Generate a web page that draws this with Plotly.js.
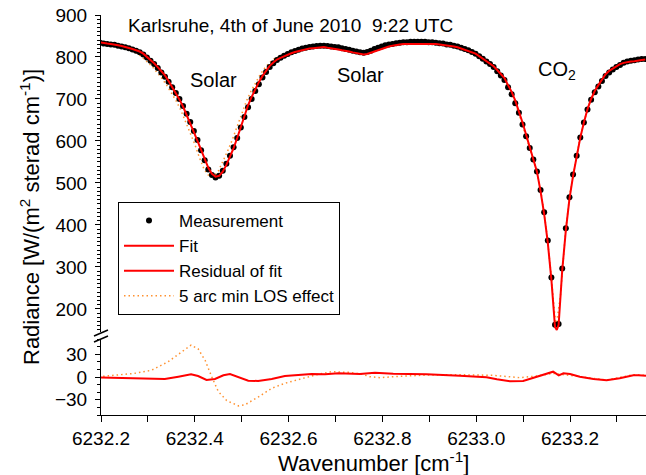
<!DOCTYPE html>
<html><head><meta charset="utf-8">
<script src="https://cdn.plot.ly/plotly-3.0.1.min.js"></script>
<style>html,body{margin:0;padding:0;background:#fff}#chart{width:646px;height:475px}</style>
</head><body><div id="chart"></div>
<script>
// Measurement (black dots)
const wnMeas = [
6232.1978,6232.2055,6232.2132,6232.2209,6232.2286,6232.2363,6232.2440,6232.2517,6232.2594,6232.2671,
6232.2748,6232.2825,6232.2902,6232.2979,6232.3056,6232.3133,6232.3210,6232.3287,6232.3364,6232.3441,
6232.3518,6232.3595,6232.3672,6232.3749,6232.3826,6232.3903,6232.3980,6232.4057,6232.4134,6232.4211,
6232.4288,6232.4365,6232.4442,6232.4519,6232.4596,6232.4673,6232.4750,6232.4827,6232.4904,6232.4981,
6232.5058,6232.5135,6232.5212,6232.5289,6232.5366,6232.5443,6232.5520,6232.5597,6232.5674,6232.5751,
6232.5828,6232.5905,6232.5982,6232.6059,6232.6136,6232.6213,6232.6290,6232.6367,6232.6444,6232.6521,
6232.6598,6232.6675,6232.6752,6232.6829,6232.6906,6232.6983,6232.7060,6232.7137,6232.7214,6232.7291,
6232.7368,6232.7445,6232.7522,6232.7599,6232.7676,6232.7753,6232.7830,6232.7907,6232.7984,6232.8061,
6232.8138,6232.8215,6232.8292,6232.8369,6232.8446,6232.8523,6232.8600,6232.8677,6232.8754,6232.8831,
6232.8908,6232.8985,6232.9062,6232.9139,6232.9216,6232.9293,6232.9370,6232.9447,6232.9524,6232.9601,
6232.9678,6232.9755,6232.9832,6232.9909,6232.9986,6233.0063,6233.0140,6233.0217,6233.0294,6233.0371,
6233.0448,6233.0525,6233.0602,6233.0679,6233.0756,6233.0833,6233.0910,6233.0987,6233.1064,6233.1141,
6233.1218,6233.1295,6233.1372,6233.1449,6233.1526,6233.1603,6233.1680,6233.1757,6233.1834,6233.1911,
6233.1988,6233.2065,6233.2142,6233.2219,6233.2296,6233.2373,6233.2450,6233.2527,6233.2604,6233.2681,
6233.2758,6233.2835,6233.2912,6233.2989,6233.3066,6233.3143,6233.3220,6233.3297,6233.3374,6233.3451,
6233.3528,6233.3605];
const measurement = [
834,832,831,830,829,827,825,823,821,818,
815,811,806,799,791,783,774,763,753,741,
728,714,700,683,665,645,624,602,578,554,
532,519,513,517,529,546,565,585,607,632,
657,680,700,719,735,751,764,776,785,793,
798,803,807,811,814,817,820,822,824,825,
826,827,827,826,825,824,823,821,819,817,
815,813,811,810,812,815,819,822,825,828,
830,831,833,834,835,835,836,836,836,836,
836,835,835,834,833,832,830,829,827,825,
822,819,816,812,808,802,796,789,783,776,
766,756,745,728,711,690,667,639,611,583,
556,527,483,430,363,275,162,164,296,392,
466,520,565,608,644,675,698,716,730,743,
755,763,770,776,781,786,789,791,792,794,
795,795];

// Fit (red line)
const wnFit = [
6232.1978,6232.2055,6232.2132,6232.2209,6232.2286,6232.2363,6232.2440,6232.2517,6232.2594,6232.2671,
6232.2748,6232.2825,6232.2902,6232.2979,6232.3056,6232.3133,6232.3210,6232.3287,6232.3364,6232.3441,
6232.3518,6232.3595,6232.3672,6232.3749,6232.3826,6232.3903,6232.3980,6232.4057,6232.4134,6232.4211,
6232.4288,6232.4365,6232.4442,6232.4519,6232.4596,6232.4673,6232.4750,6232.4827,6232.4904,6232.4981,
6232.5058,6232.5135,6232.5212,6232.5289,6232.5366,6232.5443,6232.5520,6232.5597,6232.5674,6232.5751,
6232.5828,6232.5905,6232.5982,6232.6059,6232.6136,6232.6213,6232.6290,6232.6367,6232.6444,6232.6521,
6232.6598,6232.6675,6232.6752,6232.6829,6232.6906,6232.6983,6232.7060,6232.7137,6232.7214,6232.7291,
6232.7368,6232.7445,6232.7522,6232.7599,6232.7676,6232.7753,6232.7830,6232.7907,6232.7984,6232.8061,
6232.8138,6232.8215,6232.8292,6232.8369,6232.8446,6232.8523,6232.8600,6232.8677,6232.8754,6232.8831,
6232.8908,6232.8985,6232.9062,6232.9139,6232.9216,6232.9293,6232.9370,6232.9447,6232.9524,6232.9601,
6232.9678,6232.9755,6232.9832,6232.9909,6232.9986,6233.0063,6233.0140,6233.0217,6233.0294,6233.0371,
6233.0448,6233.0525,6233.0602,6233.0679,6233.0756,6233.0833,6233.0910,6233.0987,6233.1064,6233.1141,
6233.1218,6233.1295,6233.1372,6233.1449,6233.1526,6233.1603,6233.1680,6233.1718,6233.1757,6233.1834,6233.1911,
6233.1988,6233.2065,6233.2142,6233.2219,6233.2296,6233.2373,6233.2450,6233.2527,6233.2604,6233.2681,
6233.2758,6233.2835,6233.2912,6233.2989,6233.3066,6233.3143,6233.3220,6233.3297,6233.3374,6233.3451,
6233.3528,6233.3605];
const fit = [
835,833,832,831,830,828,826,824,822,819,
816,813,808,801,793,785,776,766,756,743,
729,714,699,682,663,642,621,600,580,557,
536,522,515,517,527,543,561,583,607,634,
661,685,705,724,740,755,768,779,787,794,
798,802,805,809,812,814,817,819,820,821,
822,823,824,822,821,820,818,816,815,813,
811,809,807,806,807,810,813,817,820,823,
825,827,829,830,831,831,832,832,832,832,
832,832,832,831,830,829,828,827,825,823,
820,818,815,811,808,802,796,789,784,778,
769,760,750,733,717,696,672,644,615,585,
557,527,480,426,358,269,157,150,162,292,387,
462,517,563,608,644,676,700,719,733,747,
759,767,773,778,783,786,788,789,790,792,
793,794];

// 5 arc min LOS effect spectrum (orange dotted, upper panel)
const wnLos = [
6232.20,6232.21,6232.22,6232.23,6232.24,6232.25,6232.26,6232.27,6232.28,6232.29,
6232.30,6232.31,6232.32,6232.33,6232.34,6232.35,6232.36,6232.37,6232.38,6232.39,
6232.40,6232.41,6232.42,6232.43,6232.44,6232.45,6232.46,6232.47,6232.48,6232.49,
6232.50,6232.51,6232.52,6232.53,6232.54,6232.55,6232.56,6232.57,6232.58,6232.59,
6232.60,6232.61,6232.62,6232.63,6232.64,6232.65,6232.66,6232.67,6232.68,6232.69,
6232.70,6232.71,6232.72,6232.73,6232.74,6232.75,6232.76,6232.77,6232.78,6232.79,
6232.80,6232.81,6232.82,6232.83,6232.84,6232.85,6232.86,6232.87,6232.88,6232.89,
6232.90,6232.91,6232.92,6232.93,6232.94,6232.95,6232.96,6232.97,6232.98,6232.99,
6233.00,6233.01,6233.02,6233.03,6233.04,6233.05,6233.06,6233.07,6233.08,6233.09,
6233.10,6233.11,6233.12,6233.13,6233.14,6233.15,6233.16,6233.17,6233.18,6233.19,
6233.20,6233.21,6233.22,6233.23,6233.24,6233.25,6233.26,6233.27,6233.28,6233.29,
6233.30,6233.31,6233.32,6233.33,6233.34,6233.35,6233.36];
const losSpectrum = [
831,830,829,826,824,821,817,813,807,798,
787,776,763,749,733,715,696,674,648,621,
592,560,532,517,515,528,550,576,603,635,
667,695,719,740,759,775,787,796,802,807,
812,816,820,823,825,826,827,827,825,824,
822,819,817,814,812,810,813,817,822,825,
829,830,831,833,834,835,836,836,836,836,
835,834,833,832,830,827,825,821,817,812,
807,799,791,782,772,759,745,724,699,669,
634,598,562,525,465,385,278,155,235,380,
476,543,600,646,685,712,730,746,759,769,
777,783,788,791,793,794,795];

// Residual of fit (red, lower panel)
const wnRes = [6232.195,6232.237,6232.287,6232.336,6232.365,6232.392,6232.407,6232.425,6232.443,6232.461,
6232.475,6232.493,6232.514,6232.535,6232.564,6232.592,6232.621,6232.649,6232.678,6232.706,
6232.752,6232.784,6232.823,6232.894,6232.965,6233.022,6233.044,6233.072,6233.100,6233.122,
6233.147,6233.164,6233.176,6233.186,6233.200,6233.221,6233.250,6233.278,6233.306,6233.335,
6233.346,6233.362];
const residual = [-0.5,-1,-1.7,-2.6,0.4,3.5,1.3,-3.9,-2.6,2.2,
3.9,-0.4,-4.8,-5.2,-2.6,1.3,2.6,3.9,3.5,4.8,
3.8,5.7,4.3,3.5,1.7,-0.4,-3,-5.7,-5.2,-1.3,
3.9,7,2.2,4.8,3.9,0.4,-2.6,-4.3,-1.7,2.2,
2.2,1.5];

// 5 arc min LOS effect residual (orange dotted, lower panel)
const wnLosRes = [6232.195,6232.237,6232.272,6232.308,6232.343,6232.372,6232.392,6232.407,6232.422,6232.436,
6232.450,6232.468,6232.493,6232.507,6232.535,6232.564,6232.592,6232.628,6232.663,6232.692,
6232.727,6232.756,6232.773,6232.795,6232.823,6232.894,6232.965,6233.036,6233.093,6233.129,
6233.164,6233.221,6233.250,6233.278,6233.335,6233.362];
const losResidual = [0.4,2.6,4.8,9,20,33,42,37,22,0.4,
-19,-31,-38,-36.5,-26.5,-14.8,-8.3,-2.2,3.5,7,
6.1,3.9,0.4,-0.9,0.4,2.6,3,2.2,-0.9,1.3,
4.8,0.4,-1.7,-3.9,3,2];

const FONT = 'Liberation Sans, Arial, Helvetica, sans-serif';
const RED = '#ff0000', ORANGE = '#ff9130';
const DOT = '1.5px,3px';

const traces = [
  {x: wnLos, y: losSpectrum, xaxis:'x', yaxis:'y', mode:'lines', name:'5 arc min LOS effect',
   line:{color:ORANGE, width:1.5, dash:DOT}, showlegend:false, legendgroup:'los', hoverinfo:'skip'},
  {x: wnLosRes, y: losResidual, xaxis:'x', yaxis:'y2', mode:'lines', name:'5 arc min LOS effect',
   line:{color:ORANGE, width:1.5, dash:DOT}, legendgroup:'los', legendrank:4},
  {x: wnMeas, y: measurement, xaxis:'x', yaxis:'y', mode:'markers', name:'Measurement',
   marker:{color:'#000', size:6}, legendrank:1},
  {x: wnFit, y: fit, xaxis:'x', yaxis:'y', mode:'lines', name:'Fit',
   line:{color:RED, width:2}, legendrank:2},
  {x: wnRes, y: residual, xaxis:'x', yaxis:'y2', mode:'lines', name:'Residual of fit',
   line:{color:RED, width:2}, legendrank:3}
];

const px = v => (v - 101) / 545;
const py = v => (415 - v) / 400;

const layout = {
  width: 646, height: 475,
  margin: {l:101, r:0, t:15, b:60, pad:0},
  paper_bgcolor:'#fff', plot_bgcolor:'#fff',
  font: {family: FONT, color:'#000', size:19},
  showlegend: true,
  legend: {x: px(118), y: py(202), xanchor:'left', yanchor:'top',
    bgcolor:'#fff', bordercolor:'#000', borderwidth:1,
    font:{family:FONT, size:17, color:'#000'}, itemwidth:50, tracegroupgap:0},
  xaxis: {range:[6232.2, 6233.362], anchor:'y2', domain:[0,1],
    showline:true, linecolor:'#000', linewidth:1, mirror:false,
    ticks:'outside', ticklen:6, tickwidth:1, tickcolor:'#000',
    tick0:6232.2, dtick:0.2, tickformat:'.1f', ticklabelstandoff:0,
    minor:{dtick:0.1, tick0:6232.2, ticklen:6, ticks:'outside', tickcolor:'#000', showgrid:false},
    showgrid:false, zeroline:false, tickfont:{size:19}},
  yaxis: {domain:[py(332), 1], range:[145, 900], anchor:'x',
    showline:true, linecolor:'#000', linewidth:1,
    ticks:'outside', ticklen:5, tickwidth:1, tickcolor:'#000',
    tick0:0, dtick:100, ticklabelstandoff:4,
    minor:{dtick:10, tick0:0, ticklen:3, ticks:'outside', tickcolor:'#000', showgrid:false},
    showgrid:false, zeroline:false, tickfont:{size:19}},
  yaxis2: {domain:[0, py(339)], range:[-50, 50], anchor:'x',
    showline:true, linecolor:'#000', linewidth:1,
    ticks:'outside', ticklen:5, tickwidth:1, tickcolor:'#000',
    tick0:0, dtick:30, ticklabelstandoff:4,
    minor:{dtick:10, tick0:0, ticklen:3, ticks:'outside', tickcolor:'#000', showgrid:false},
    showgrid:false, zeroline:false, tickfont:{size:19}},
  shapes: [
    {type:'line', xref:'paper', yref:'paper', x0:px(94), y0:py(336), x1:px(108), y1:py(330), line:{color:'#000', width:1.5}},
    {type:'line', xref:'paper', yref:'paper', x0:px(94), y0:py(342), x1:px(108), y1:py(336), line:{color:'#000', width:1.5}}
  ],
  annotations: [
    {xref:'paper', yref:'paper', x:px(290.5), y:py(25), text:'Karlsruhe, 4th of June 2010\u00a0 9:22 UTC',
     showarrow:false, font:{size:19}, xanchor:'center', yanchor:'middle'},
    {xref:'x', yref:'y', x:6232.439, y:745, text:'Solar', showarrow:false, font:{size:20}},
    {xref:'x', yref:'y', x:6232.754, y:757, text:'Solar', showarrow:false, font:{size:20}},
    {xref:'x', yref:'y', x:6233.172, y:768, text:'CO<sub>2</sub>', showarrow:false, font:{size:20}},
    {xref:'paper', yref:'paper', x:px(30), y:py(217), text:'Radiance [W/(m<sup>2</sup> sterad cm<sup>-1</sup>)]',
     showarrow:false, textangle:-90, font:{size:22}, xanchor:'center', yanchor:'middle'},
    {xref:'paper', yref:'paper', x:0.5, y:py(462), text:'Wavenumber [cm<sup>-1</sup>]',
     showarrow:false, font:{size:22}, xanchor:'center', yanchor:'middle'}
  ]
};

Plotly.newPlot('chart', traces, layout, {displayModeBar:false, staticPlot:true});
</script></body></html>
